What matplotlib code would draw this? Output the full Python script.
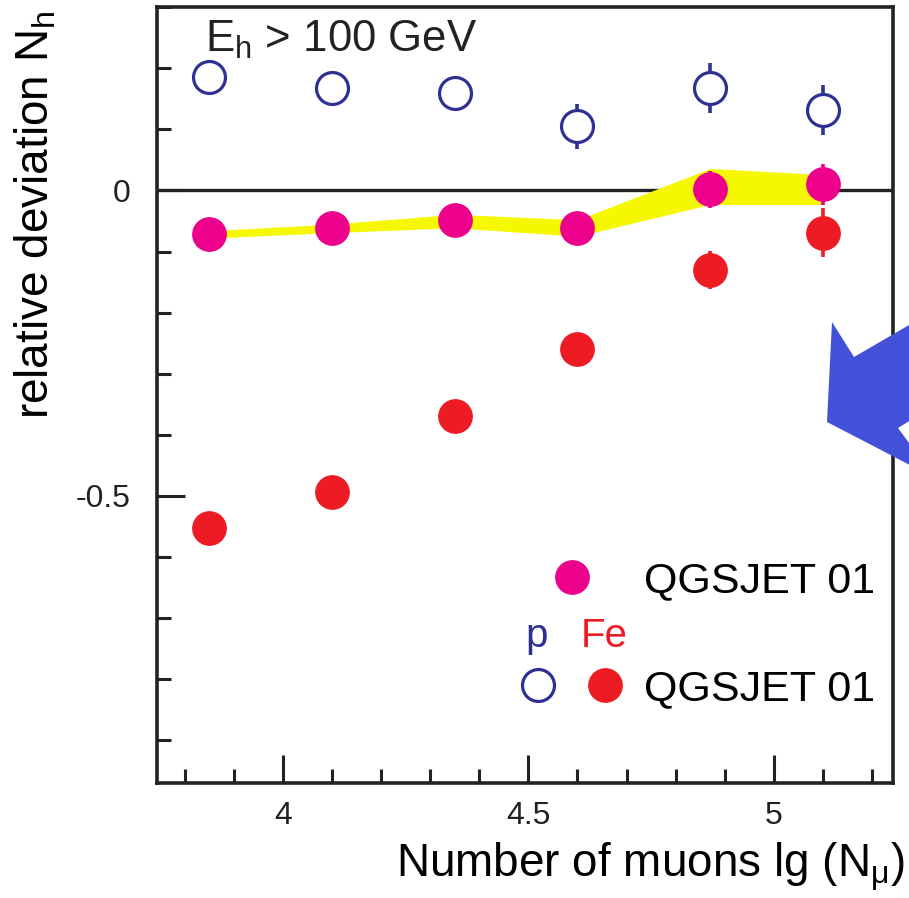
import matplotlib
matplotlib.use('Agg')
import matplotlib.pyplot as plt
from matplotlib.lines import Line2D
from matplotlib.legend_handler import HandlerTuple
from matplotlib.patches import Polygon
from matplotlib.ticker import MultipleLocator

plt.rcParams['font.family'] = ['Liberation Sans', 'DejaVu Sans']
plt.rcParams['mathtext.fontset'] = 'custom'
plt.rcParams['mathtext.rm'] = 'Liberation Sans'
plt.rcParams['mathtext.it'] = 'Liberation Sans:italic'

# lg(N_mu) bins
lg_nmu = [3.85, 4.1, 4.35, 4.6, 4.87, 5.1]

# proton, QGSJET 01 (open circles)
p_dev = [0.185, 0.167, 0.159, 0.105, 0.167, 0.131]
p_err = [0.0, 0.0, 0.018, 0.037, 0.041, 0.041]

# iron, QGSJET 01 (red)
fe_dev = [-0.552, -0.493, -0.369, -0.259, -0.130, -0.069]
fe_err = [0.0, 0.0, 0.0, 0.0, 0.031, 0.040]

# QGSJET 01 (magenta) with yellow band
q_dev = [-0.072, -0.061, -0.048, -0.062, 0.002, 0.010]
q_err = [0.0, 0.0, 0.0, 0.0, 0.030, 0.033]
band_hi = [-0.066, -0.055, -0.039, -0.048, 0.036, 0.026]
band_lo = [-0.078, -0.069, -0.061, -0.075, -0.023, -0.023]

navy = '#2e3192'
red = '#ed1c24'
magenta = '#ec008c'
yellow = '#f5f800'

fig = plt.figure(figsize=(9.09, 8.98), dpi=100)
ax = fig.add_axes([0.173, 0.128, 0.809, 0.864])

ax.axhline(0, color='#222222', lw=2.4, zorder=1)
ax.fill_between(lg_nmu, band_lo, band_hi, color=yellow, lw=0, zorder=2)

ax.errorbar(lg_nmu, q_dev, yerr=q_err, fmt='o', ms=24, color=magenta,
            elinewidth=2.6, capsize=0, zorder=4)
ax.errorbar(lg_nmu, fe_dev, yerr=fe_err, fmt='o', ms=24, color=red,
            elinewidth=2.6, capsize=0, zorder=4)
ax.errorbar(lg_nmu, p_dev, yerr=p_err, fmt='o', ms=23, mfc='white', mec=navy,
            mew=2.3, color=navy, elinewidth=2.6, capsize=0, zorder=4)

ax.set_xlim(3.744, 5.242)
ax.set_ylim(-0.97, 0.30)
ax.set_xticks([4, 4.5, 5])
ax.set_xticklabels(['4', '4.5', '5'])
ax.xaxis.set_minor_locator(MultipleLocator(0.1))
ax.set_yticks([-0.5, 0])
ax.set_yticklabels(['-0.5', '0'])
ax.yaxis.set_minor_locator(MultipleLocator(0.1))
ax.tick_params(which='both', direction='in', width=2.2, color='#222222',
               labelcolor='#222222', labelsize=23)
ax.tick_params(which='major', length=20)
ax.tick_params(which='minor', length=10)
ax.tick_params(axis='x', which='major', pad=13)
ax.tick_params(axis='y', which='major', pad=19)
for s in ax.spines.values():
    s.set_linewidth(2.6)
    s.set_color('#222222')

ax.set_xlabel('Number of muons lg (N$_\\mathrm{μ}$)', fontsize=33, ha='right')
ax.xaxis.set_label_coords(1.016, -0.075)
ax.set_ylabel('relative deviation N$_\\mathrm{h}$', fontsize=33, loc='top')
ax.yaxis.set_label_coords(-0.134, 0.996)

ax.text(0.065, 0.942, 'E$_\\mathrm{h}$ > 100 GeV', transform=ax.transAxes,
        fontsize=31.5, color='#222222', va='baseline')

# legend
h_q = Line2D([], [], ls='none', marker='o', ms=24, color=magenta)
h_p = Line2D([], [], ls='none', marker='o', ms=23, mfc='white', mec=navy, mew=2.3)
h_fe = Line2D([], [], ls='none', marker='o', ms=24, color=red)
leg = ax.legend([h_q, (h_p, h_fe)], ['QGSJET 01', 'QGSJET 01'],
                handler_map={tuple: HandlerTuple(ndivide=None, pad=0)},
                frameon=False, fontsize=31, handlelength=3.1, handletextpad=0.12,
                labelspacing=1.58, loc='lower right',
                bbox_to_anchor=(0.999, 0.073), borderaxespad=0)
ax.text(4.516, -0.73, 'p', color=navy, fontsize=29, ha='center', va='center')
ax.text(4.655, -0.73, 'Fe', color=red, fontsize=29, ha='center', va='center')

# blue arrow, clipped by the right edge
W, H = 909.0, 898.0
arrow_px = [(827, 422), (832, 322), (854, 357), (935, 310), (935, 405),
            (898, 428), (935, 478)]
arrow = Polygon([(x / W, 1 - y / H) for x, y in arrow_px], closed=True,
                transform=fig.transFigure, facecolor='#4350d8', edgecolor='none',
                zorder=10)
fig.patches.append(arrow)

fig.savefig('out.png', dpi=100)
